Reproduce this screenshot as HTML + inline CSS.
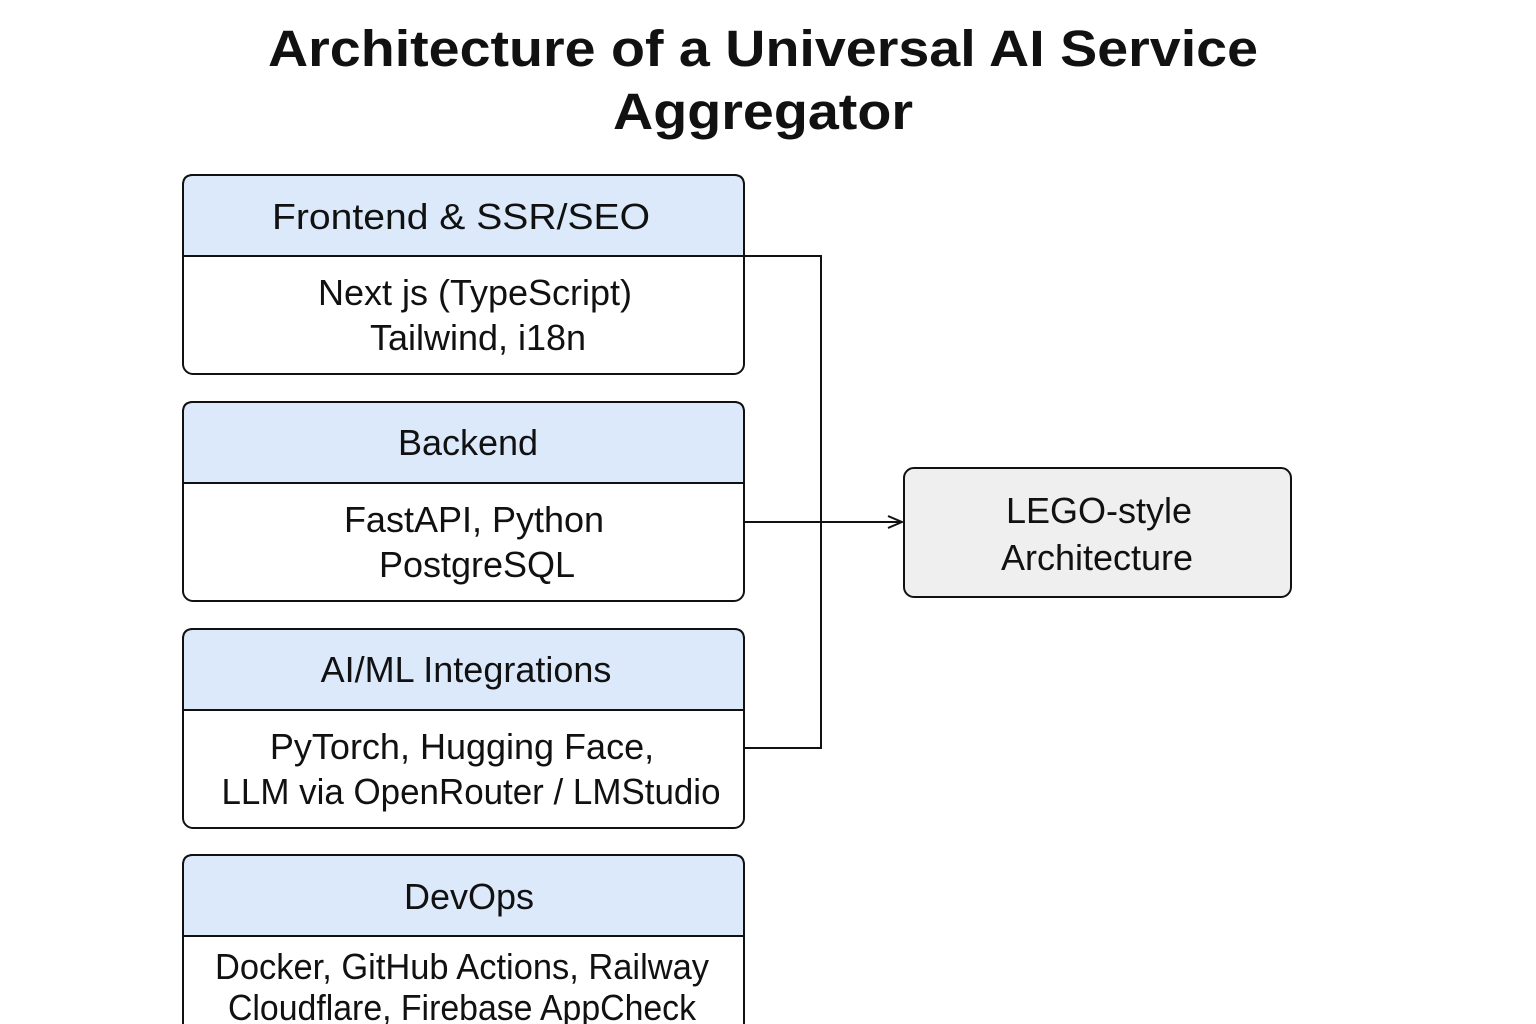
<!DOCTYPE html>
<html><head><meta charset="utf-8"><style>
html,body{margin:0;padding:0;background:#fff;}
svg{display:block;font-family:"Liberation Sans",sans-serif;}
</style></head><body>
<svg width="1536" height="1024" viewBox="0 0 1536 1024" xmlns="http://www.w3.org/2000/svg">
<defs><marker id="a" markerWidth="16" markerHeight="14" refX="15" refY="7" orient="auto" markerUnits="userSpaceOnUse"><path d="M1,1 L15,7 L1,13" fill="none" stroke="#111" stroke-width="2"/></marker></defs>
<g font-weight="bold" font-size="51" fill="#111" text-anchor="middle">
<text x="763" y="66" textLength="990" lengthAdjust="spacingAndGlyphs">Architecture of a Universal AI Service</text>
<text x="763" y="129" textLength="300" lengthAdjust="spacingAndGlyphs">Aggregator</text>
</g>
<g stroke="#111" stroke-width="2">
<path d="M744,256 H821 V748 H744" fill="none"/>
<line x1="744" y1="522" x2="902" y2="522" marker-end="url(#a)"/>
</g>
<g stroke="#111" stroke-width="2">
<rect x="183" y="175" width="561" height="199" rx="10" fill="#fff"/>
<path d="M183,256 V185 Q183,175 193,175 H734 Q744,175 744,185 V256 Z" fill="#dbe9fb"/>
<rect x="183" y="402" width="561" height="199" rx="10" fill="#fff"/>
<path d="M183,483 V412 Q183,402 193,402 H734 Q744,402 744,412 V483 Z" fill="#dbe9fb"/>
<rect x="183" y="629" width="561" height="199" rx="10" fill="#fff"/>
<path d="M183,710 V639 Q183,629 193,629 H734 Q744,629 744,639 V710 Z" fill="#dbe9fb"/>
<rect x="183" y="855" width="561" height="199" rx="10" fill="#fff"/>
<path d="M183,936 V865 Q183,855 193,855 H734 Q744,855 744,865 V936 Z" fill="#dbe9fb"/>
<rect x="904" y="468" width="387" height="129" rx="10" fill="#efefef"/>
</g>
<g font-size="36" fill="#111" text-anchor="middle">
<text x="461" y="229" textLength="378" lengthAdjust="spacingAndGlyphs">Frontend &amp; SSR/SEO</text>
<text x="475" y="305">Next js (TypeScript)</text>
<text x="478" y="350">Tailwind, i18n</text>
<text x="468" y="455">Backend</text>
<text x="474" y="532">FastAPI, Python</text>
<text x="477" y="577">PostgreSQL</text>
<text x="466" y="682">AI/ML Integrations</text>
<text x="462" y="759">PyTorch, Hugging Face,</text>
<text x="471" y="804" textLength="499" lengthAdjust="spacingAndGlyphs">LLM via OpenRouter / LMStudio</text>
<text x="462" y="979" textLength="494" lengthAdjust="spacingAndGlyphs">Docker, GitHub Actions,  Railway</text>
<text x="462" y="1020" textLength="468" lengthAdjust="spacingAndGlyphs">Cloudflare, Firebase AppCheck</text>
<text x="469" y="909">DevOps</text>
<text x="1099" y="523">LEGO-style</text>
<text x="1097" y="570">Architecture</text>
</g>
</svg>
</body></html>
